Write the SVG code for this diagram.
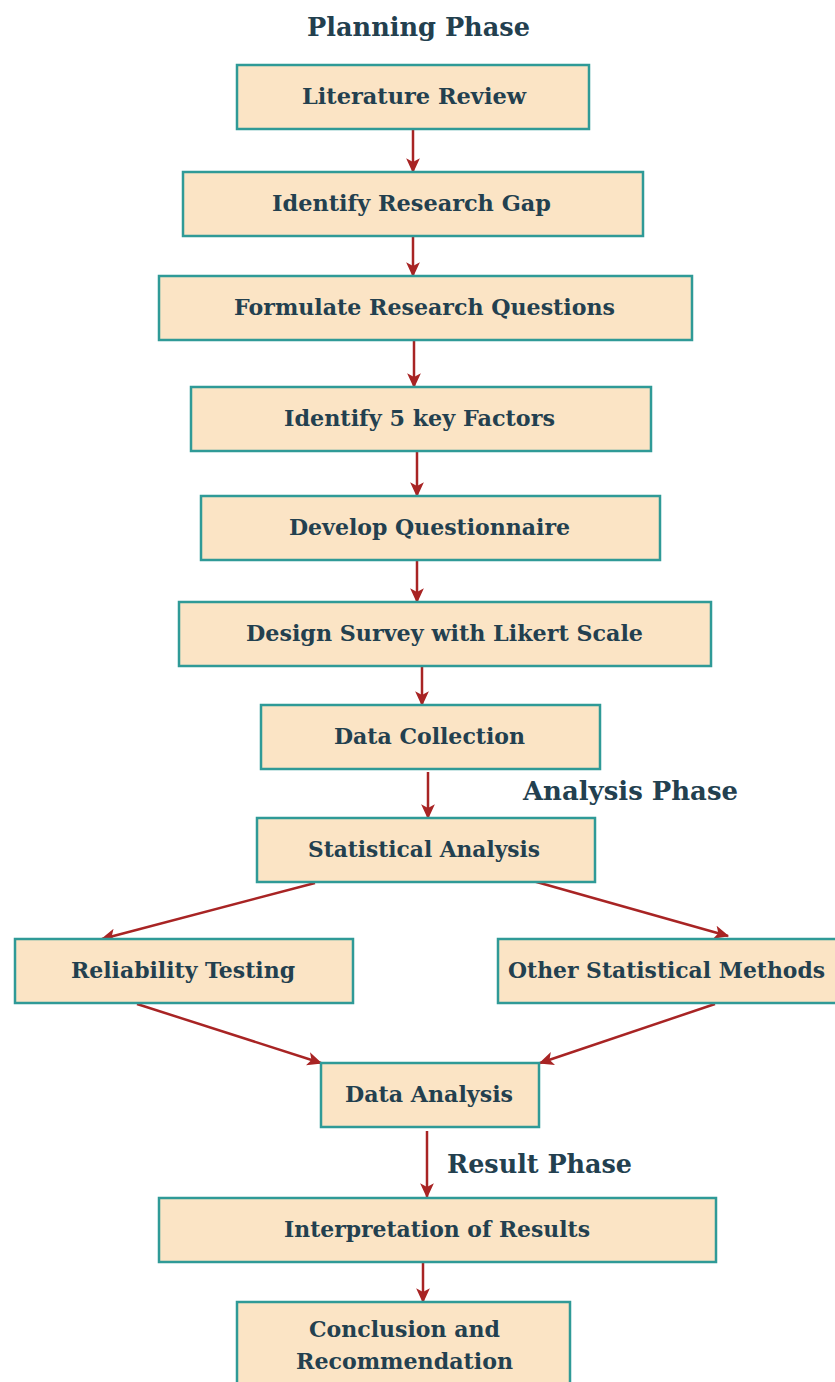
<svg xmlns="http://www.w3.org/2000/svg" width="835" height="1382" viewBox="0 0 835 1382">
  <defs>
    <marker id="arrow" viewBox="0 0 12 12" refX="11" refY="6" markerWidth="15" markerHeight="15" markerUnits="userSpaceOnUse" orient="auto">
      <path d="M0,0.5 L12,6 L0,11.5 L3,6 Z" fill="#a82424"/>
    </marker>
  </defs>
  <style>
    .box { fill: #fbe4c5; stroke: #2f9a97; stroke-width: 2.5; }
    .lbl { font-family: "DejaVu Serif", "Liberation Serif", serif; font-weight: bold; font-size: 22px; fill: #23404f; text-anchor: middle; }
    .phase { font-family: "DejaVu Serif", "Liberation Serif", serif; font-weight: bold; font-size: 26px; fill: #23404f; text-anchor: middle; }
    .conn { stroke: #a82424; stroke-width: 2.5; fill: none; marker-end: url(#arrow); }
  </style>
  <rect width="835" height="1382" fill="#ffffff"/>

  <!-- phase headings -->
  <text class="phase" x="418.5" y="36" textLength="223" lengthAdjust="spacingAndGlyphs">Planning Phase</text>
  <text class="phase" x="630.5" y="800" textLength="215" lengthAdjust="spacingAndGlyphs">Analysis Phase</text>
  <text class="phase" x="539.5" y="1173" textLength="185" lengthAdjust="spacingAndGlyphs">Result Phase</text>

  <!-- connectors -->
  <g id="connectors">
    <line class="conn" x1="413" y1="129" x2="413" y2="172"/>
    <line class="conn" x1="413" y1="236" x2="413" y2="276"/>
    <line class="conn" x1="414" y1="341" x2="414" y2="387"/>
    <line class="conn" x1="417" y1="451" x2="417" y2="496"/>
    <line class="conn" x1="417" y1="560" x2="417" y2="602"/>
    <line class="conn" x1="422" y1="666" x2="422" y2="705"/>
    <line class="conn" x1="428" y1="772" x2="428" y2="818"/>
    <line class="conn" x1="315" y1="883" x2="102" y2="939"/>
    <line class="conn" x1="533" y1="881" x2="728" y2="936"/>
    <line class="conn" x1="137" y1="1004" x2="321" y2="1063"/>
    <line class="conn" x1="715" y1="1004" x2="540" y2="1063"/>
    <line class="conn" x1="427" y1="1131" x2="427" y2="1197"/>
    <line class="conn" x1="423" y1="1263" x2="423" y2="1302"/>
  </g>

  <g id="literature-review">
    <rect class="box" x="237" y="65" width="352" height="64"/>
    <text class="lbl" x="414" y="104" textLength="224" lengthAdjust="spacingAndGlyphs">Literature Review</text>
  </g>
  <g id="identify-research-gap">
    <rect class="box" x="183" y="172" width="460" height="64"/>
    <text class="lbl" x="411.5" y="211" textLength="279" lengthAdjust="spacingAndGlyphs">Identify Research Gap</text>
  </g>
  <g id="formulate-research-questions">
    <rect class="box" x="159" y="276" width="533" height="64"/>
    <text class="lbl" x="424.5" y="315" textLength="381" lengthAdjust="spacingAndGlyphs">Formulate Research Questions</text>
  </g>
  <g id="identify-key-factors">
    <rect class="box" x="191" y="387" width="460" height="64"/>
    <text class="lbl" x="419.5" y="426" textLength="271" lengthAdjust="spacingAndGlyphs">Identify 5 key Factors</text>
  </g>
  <g id="develop-questionnaire">
    <rect class="box" x="201" y="496" width="459" height="64"/>
    <text class="lbl" x="429.5" y="535" textLength="281" lengthAdjust="spacingAndGlyphs">Develop Questionnaire</text>
  </g>
  <g id="design-survey">
    <rect class="box" x="179" y="602" width="532" height="64"/>
    <text class="lbl" x="444.5" y="641" textLength="397" lengthAdjust="spacingAndGlyphs">Design Survey with Likert Scale</text>
  </g>
  <g id="data-collection">
    <rect class="box" x="261" y="705" width="339" height="64"/>
    <text class="lbl" x="429.5" y="744" textLength="191" lengthAdjust="spacingAndGlyphs">Data Collection</text>
  </g>
  <g id="statistical-analysis">
    <rect class="box" x="257" y="818" width="338" height="64"/>
    <text class="lbl" x="424" y="857" textLength="232" lengthAdjust="spacingAndGlyphs">Statistical Analysis</text>
  </g>
  <g id="reliability-testing">
    <rect class="box" x="15" y="939" width="338" height="64"/>
    <text class="lbl" x="183" y="978" textLength="224" lengthAdjust="spacingAndGlyphs">Reliability Testing</text>
  </g>
  <g id="other-statistical-methods">
    <rect class="box" x="498" y="939" width="340" height="64"/>
    <text class="lbl" x="666.5" y="978" textLength="317" lengthAdjust="spacingAndGlyphs">Other Statistical Methods</text>
  </g>
  <g id="data-analysis">
    <rect class="box" x="321" y="1063" width="218" height="64"/>
    <text class="lbl" x="429" y="1102" textLength="168" lengthAdjust="spacingAndGlyphs">Data Analysis</text>
  </g>
  <g id="interpretation-of-results">
    <rect class="box" x="159" y="1198" width="557" height="64"/>
    <text class="lbl" x="437" y="1237" textLength="306" lengthAdjust="spacingAndGlyphs">Interpretation of Results</text>
  </g>
  <g id="conclusion-and-recommendation">
    <rect class="box" x="237" y="1302" width="333" height="90"/>
    <text class="lbl" x="404.5" y="1337" textLength="191" lengthAdjust="spacingAndGlyphs">Conclusion and</text>
    <text class="lbl" x="404.5" y="1369" textLength="217" lengthAdjust="spacingAndGlyphs">Recommendation</text>
  </g>
</svg>
